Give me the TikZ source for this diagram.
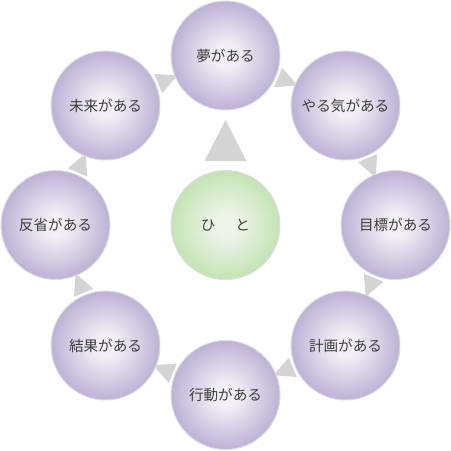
\documentclass[tikz,border=0pt]{standalone}
\usepackage{fontspec}
\setmainfont{Noto Sans CJK JP}
\usetikzlibrary{calc,backgrounds}
\definecolor{pc}{RGB}{242,240,246}
\definecolor{pe}{RGB}{188,178,213}
\definecolor{gc}{RGB}{238,243,234}
\definecolor{ge}{RGB}{196,228,180}
\definecolor{tri}{RGB}{212,212,212}
\definecolor{txt}{RGB}{62,62,62}
\definecolor{rim}{RGB}{222,222,226}
\pgfdeclareradialshading{pball}{\pgfpointorigin}{color(0bp)=(pc); color(5bp)=(pc); color(25bp)=(pe); color(50bp)=(pe)}
\pgfdeclareradialshading{gball}{\pgfpointorigin}{color(0bp)=(gc); color(5bp)=(gc); color(25bp)=(ge); color(50bp)=(ge)}
\newcommand\ringtri[2]{%
  \coordinate (tb) at ($(#1)!57pt!(#2)$);
  \fill[tri] ($(#1)!78pt!(#2)$) -- ($(tb)!10.5pt!90:(#2)$) -- ($(tb)!10.5pt!-90:(#2)$) -- cycle;
}
\newcommand\lowtxt[1]{\raisebox{-1.5pt}{#1}}
\begin{document}
\begin{tikzpicture}[x=1pt,y=-1pt,
  ball/.style={circle,minimum size=109pt,inner sep=0pt,draw=rim,line width=1pt,
    text=txt,font=\fontsize{14.6}{16}\selectfont},
  pballnode/.style={ball,shading=pball},
  gballnode/.style={ball,shading=gball}]
\useasboundingbox (0,0) rectangle (451,451);
\node[gballnode] (hito) at (225.5,225) {\lowtxt{ひ\hspace{20pt}と}};
\node[pballnode] (n1) at (225.5,55.5) {\lowtxt{夢がある}};
\node[pballnode] (n2) at (345.5,105.5) {\lowtxt{やる気がある}};
\node[pballnode] (n3) at (395.5,225) {\lowtxt{目標がある}};
\node[pballnode] (n4) at (345.5,345.5) {\lowtxt{計画がある}};
\node[pballnode] (n5) at (225.5,395) {\lowtxt{行動がある}};
\node[pballnode] (n6) at (105.5,345.5) {\lowtxt{結果がある}};
\node[pballnode] (n7) at (55.5,225) {\lowtxt{反省がある}};
\node[pballnode] (n8) at (105.5,105.5) {\lowtxt{未来がある}};
\begin{scope}[on background layer]
\ringtri{n1}{n2}
\ringtri{n2}{n3}
\ringtri{n3}{n4}
\ringtri{n4}{n5}
\ringtri{n5}{n6}
\ringtri{n6}{n7}
\ringtri{n7}{n8}
\ringtri{n8}{n1}
\end{scope}
\fill[tri] ($(hito)+(0,-105)$) -- ($(hito)+(21,-64)$) -- ($(hito)+(-21,-64)$) -- cycle;
\end{tikzpicture}
\end{document}
